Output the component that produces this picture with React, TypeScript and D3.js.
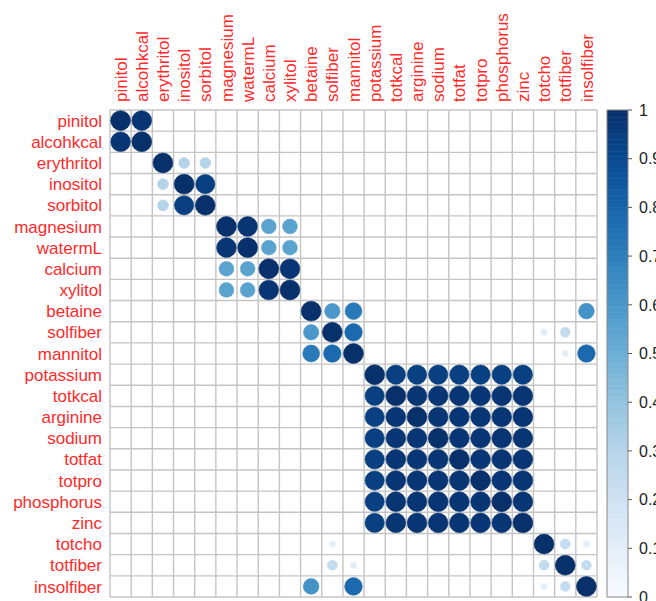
import React from "react";
import * as d3 from "d3";

const variables = [
  "pinitol", "alcohkcal", "erythritol", "inositol", "sorbitol", "magnesium",
  "watermL", "calcium", "xylitol", "betaine", "solfiber", "mannitol",
  "potassium", "totkcal", "arginine", "sodium", "totfat", "totpro",
  "phosphorus", "zinc", "totcho", "totfiber", "insolfiber",
];

// off-diagonal correlations (symmetric), [a, b, value]
const sugarPairs: [string, string, number][] = [
  ["pinitol", "alcohkcal", 0.98],
  ["erythritol", "inositol", 0.3],
  ["erythritol", "sorbitol", 0.3],
  ["inositol", "sorbitol", 0.94],
  ["magnesium", "watermL", 0.98],
  ["magnesium", "calcium", 0.55],
  ["magnesium", "xylitol", 0.55],
  ["watermL", "calcium", 0.55],
  ["watermL", "xylitol", 0.55],
  ["calcium", "xylitol", 0.98],
];

const fiberPairs: [string, string, number][] = [
  ["betaine", "solfiber", 0.6],
  ["betaine", "mannitol", 0.72],
  ["solfiber", "mannitol", 0.78],
  ["betaine", "insolfiber", 0.62],
  ["mannitol", "insolfiber", 0.78],
  ["solfiber", "totcho", 0.1],
  ["solfiber", "totfiber", 0.25],
  ["mannitol", "totfiber", 0.1],
  ["totcho", "totfiber", 0.25],
  ["totcho", "insolfiber", 0.1],
  ["totfiber", "insolfiber", 0.25],
];

const nutrientBlock = ["potassium", "totkcal", "arginine", "sodium", "totfat", "totpro", "phosphorus", "zinc"];
const potassiumCorr = [0.94, 0.94, 0.94, 0.94, 0.94, 0.94, 0.94]; // potassium vs the other 7
const nutrientCorr = 0.98; // among the other 7

const legendTicks = [0, 0.1, 0.2, 0.3, 0.4, 0.5, 0.6, 0.7, 0.8, 0.9, 1];

function buildMatrix(): number[][] {
  const n = variables.length;
  const m = Array.from({ length: n }, (_, i) => Array.from({ length: n }, (_, j) => (i === j ? 1 : 0)));
  const idx = (s: string) => variables.indexOf(s);
  const set = (a: string, b: string, v: number) => {
    m[idx(a)][idx(b)] = v;
    m[idx(b)][idx(a)] = v;
  };
  [...sugarPairs, ...fiberPairs].forEach(([a, b, v]) => set(a, b, v));
  nutrientBlock.slice(1).forEach((b, k) => set("potassium", b, potassiumCorr[k]));
  for (let i = 1; i < nutrientBlock.length; i++)
    for (let j = i + 1; j < nutrientBlock.length; j++) set(nutrientBlock[i], nutrientBlock[j], nutrientCorr);
  return m;
}

export default function App() {
  const W = 656, H = 601;
  const gx0 = 110, gy0 = 110, gsize = 487;
  const matrix = buildMatrix();
  const band = d3.scaleBand<string>().domain(variables).range([0, gsize]);
  const cell = band.bandwidth();
  const color = (v: number) => d3.interpolateBlues(v);
  const rScale = d3.scaleSqrt().domain([0, 1]).range([0, cell * 0.47]);

  const cbX = 607, cbW = 21, cbY0 = 110, cbY1 = 597;
  const cbScale = d3.scaleLinear().domain([0, 1]).range([cbY1, cbY0]);
  const steps = d3.range(0, 200);

  const font = "Liberation Sans, Arial, sans-serif";

  return (
    <svg width={W} height={H} style={{ position: "absolute", left: 0, top: 0, background: "#fff" }} fontFamily={font}>
      {/* grid */}
      <g transform={`translate(${gx0},${gy0})`}>
        <rect x={0} y={0} width={gsize} height={gsize} fill="#fff" />
        {variables.map((v, i) => (
          <g key={"g" + i}>
            <line x1={band(v)!} x2={band(v)!} y1={0} y2={gsize} stroke="#c4c4c4" strokeWidth={1.4} />
            <line y1={band(v)!} y2={band(v)!} x1={0} x2={gsize} stroke="#c4c4c4" strokeWidth={1.4} />
          </g>
        ))}
        <line x1={gsize} x2={gsize} y1={0} y2={gsize} stroke="#c4c4c4" strokeWidth={1.4} />
        <line y1={gsize} y2={gsize} x1={0} x2={gsize} stroke="#c4c4c4" strokeWidth={1.4} />
        {matrix.map((row, i) =>
          row.map((val, j) =>
            val > 0.02 ? (
              <circle
                key={`c${i}-${j}`}
                cx={band(variables[j])! + cell / 2}
                cy={band(variables[i])! + cell / 2}
                r={rScale(val)}
                fill={color(val)}
                stroke={color(val)}
                strokeWidth={0.6}
              />
            ) : null
          )
        )}
      </g>
      {/* row labels */}
      {variables.map((v) => (
        <text key={"r" + v} x={102} y={gy0 + band(v)! + cell / 2} dy="0.36em" textAnchor="end" fill="#ff2a2a" fontSize={17}>
          {v}
        </text>
      ))}
      {/* column labels */}
      {variables.map((v) => (
        <text
          key={"col" + v}
          transform={`translate(${gx0 + band(v)! + cell / 2},102) rotate(-90)`}
          dy="0.36em"
          textAnchor="start"
          fill="#ff2a2a"
          fontSize={17}
        >
          {v}
        </text>
      ))}
      {/* colorbar */}
      {steps.map((s) => {
        const v0 = s / steps.length, v1 = (s + 1) / steps.length;
        return (
          <rect key={"cb" + s} x={cbX} width={cbW} y={cbScale(v1)} height={cbScale(v0) - cbScale(v1) + 0.5} fill={color((v0 + v1) / 2)} />
        );
      })}
      <rect x={cbX} y={cbY0} width={cbW} height={cbY1 - cbY0} fill="none" stroke="#888" strokeWidth={1} />
      {legendTicks.map((t) => (
        <g key={"t" + t}>
          <line x1={cbX + cbW} x2={cbX + cbW + 4} y1={cbScale(t)} y2={cbScale(t)} stroke="#555" />
          <text x={639} y={cbScale(t)} dy="0.36em" fontSize={16} fill="#222">
            {String(t)}
          </text>
        </g>
      ))}
    </svg>
  );
}
